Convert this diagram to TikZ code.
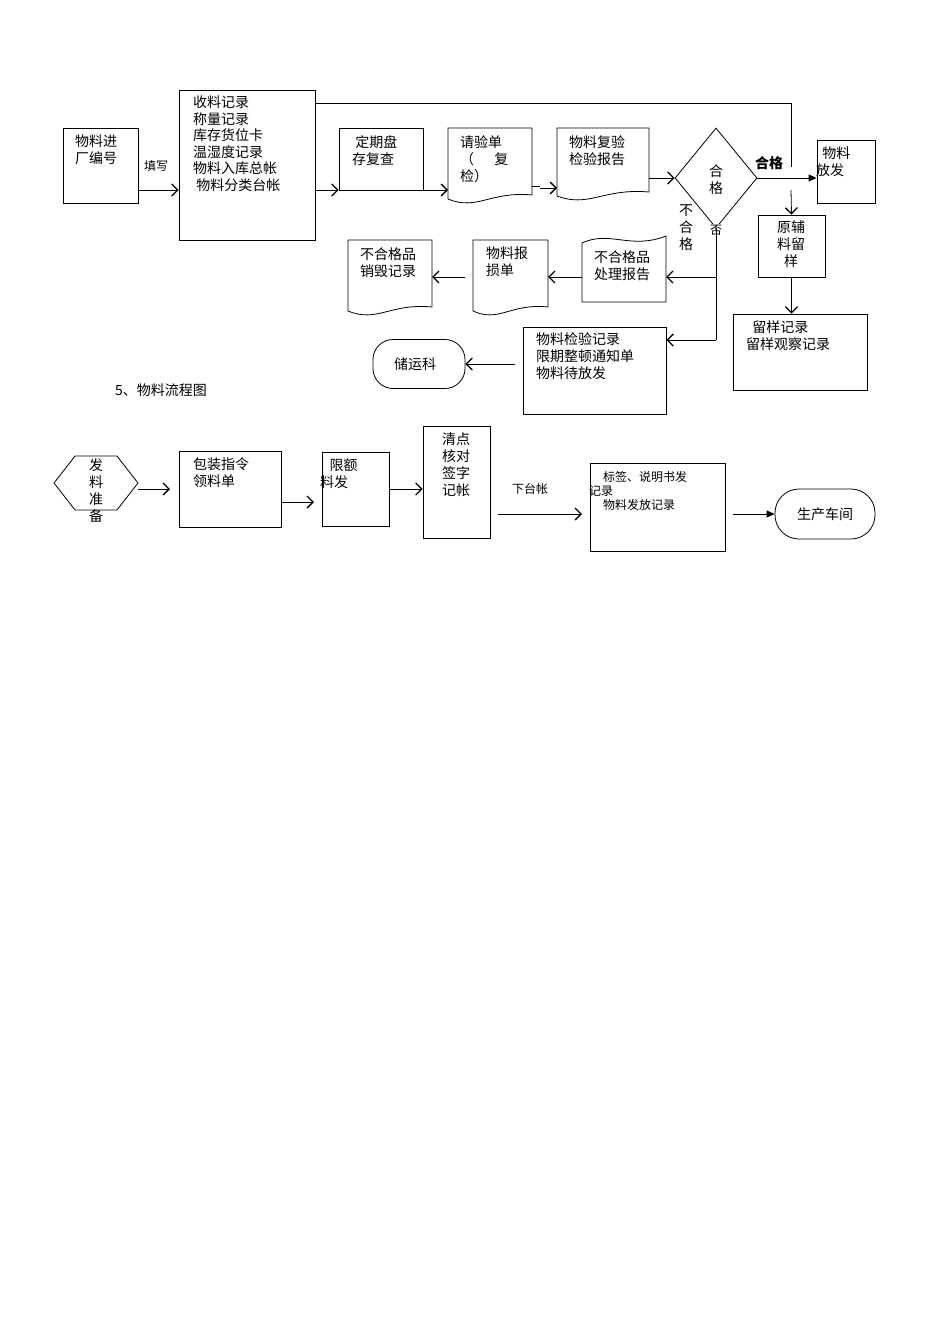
\documentclass[tikz,border=0pt]{standalone}
\usepackage{fontspec}
\setmainfont{Noto Sans CJK SC}
\usetikzlibrary{arrows.meta,fit,shapes.geometric}
\newcommand\docpath[4]{% x1 y1 x2 y2 ; wave at bottom
  \draw[thick] (#1,#2) -- (#3,#2) -- (#3,#4-8) .. controls ({(#1+#3)/2},#4-12) and ({#1+(#3-#1)*0.35},#4+8) .. (#1,#4-4) -- cycle;}
\begin{document}
\begin{tikzpicture}[x=1pt,y=-1pt,
  box/.style={draw,thick,inner sep=0pt},
  txt/.style={font=\fontsize{14}{17}\selectfont,align=left,inner sep=0pt,anchor=north west},
  sm/.style={font=\fontsize{12}{14}\selectfont,inner sep=0pt},
  arr/.style={thick,-{Straight Barb[length=6pt,width=12pt,line width=1.3pt]}},
  farr/.style={thick,-{Triangle[length=8pt,width=7pt]}}]
\useasboundingbox (0,0) rectangle (950,1344);
% ---- top diagram
\node[box,fit={(63,128)(138,203)}] (a) {};
\node[txt] (at) at (75,135) {物料进\\厂编号};
\node[sm] (fill) at (156,166) {填写};
\node[box,fit={(179,90)(315,240)}] (b) {};
\node[txt,font=\fontsize{14}{16.5}\selectfont] (bt) at (193,96) {收料记录\\称量记录\\库存货位卡\\温湿度记录\\物料入库总帐\\\ 物料分类台帐};
\node[box,fit={(339,128)(423,190)}] (c) {};
\node[txt] (ct) at (352,135) {\ 定期盘\\存复查};
\docpath{448}{128}{532}{203}
\coordinate (d) at (490,165);
\node[txt] (dt) at (460,135) {请验单\\（\quad\ \ 复\\检）};
\docpath{557}{128}{649}{200}
\coordinate (e) at (603,165);
\node[txt] (et) at (569,135) {物料复验\\检验报告};
\node[draw,thick,diamond,minimum width=82pt,minimum height=100pt,inner sep=0pt] (f) at (716,178) {};
\node[txt,align=center,anchor=center] (ft) at (716,180) {合\\格};
\node[sm,fill=white,inner sep=1pt] (no) at (716,230) {否};
\node[txt,font=\bfseries\fontsize{14}{17}\selectfont] (ok) at (755,156) {合格};
\node[txt,align=center,anchor=north] (ng) at (686,205) {不\\合\\格};
\node[box,fit={(817,140)(875,203)}] (g) {};
\node[txt] (gt) at (816,147) {\ \ 物料\\放发};
\node[box,fit={(758,215)(825,277)}] (h) {};
\node[txt,align=center,anchor=north] (ht) at (791,221) {原辅\\料留\\样};
\node[box,fit={(733,314)(867,390)}] (i) {};
\node[txt] (it) at (746,320) {\ \ 留样记录\\留样观察记录};
% reject branch
\draw[thick] (582,243) .. controls (610,230) and (630,250) .. (666,236) -- (666,302) -- (582,302) -- cycle;
\coordinate (j) at (624,277);
\node[txt] (jt) at (594,250) {不合格品\\处理报告};
\docpath{473}{240}{548}{315}
\coordinate (k) at (510,277);
\node[txt] (kt) at (486,247) {物料报\\损单};
\docpath{348}{240}{432}{315}
\coordinate (l) at (390,277);
\node[txt] (lt) at (360,247) {不合格品\\销毁记录};
\node[box,fit={(523,327)(666,414)}] (m) {};
\node[txt] (mt) at (536,332) {物料检验记录\\限期整顿通知单\\物料待放发};
\node[draw,thick,rounded corners=20pt,minimum width=92pt,minimum height=49pt] (n) at (419,364) {};
\node[txt,anchor=center] (nt) at (415,364) {储运科};
\node[txt,anchor=west,font=\fontsize{14}{17}\selectfont] (title) at (115,390) {5、物料流程图};
% connectors
\draw[arr] (a.east |- 0,190) -- (b.west |- 0,190);
\draw[arr] (b.east |- 0,190) -- (c.west |- 0,190);
\draw[arr] (c.east |- 0,190) -- (448,190);
\draw[thick] (532,186) -- (540,186);
\draw[arr] (540,188) -- (557,188);
\draw[arr] (649,178) -- (f.west);
\draw[farr] (f.east) -- (g.west |- f.east);
\draw[thick] (b.east |- 0,103) -- (791,103) -- (791,167);
\draw[arr] (791,190) -- (h.north);
\draw[arr] (h.south) -- (i.north -| h.south);
\draw[thick] (f.south) -- (716,340);
\draw[thick,-{Straight Barb[length=6pt,width=12pt,line width=1.3pt]}] (716,277) -- (666,277);
\draw[arr] (716,340) -- (m.east |- 0,340);
\draw[arr] (582,277) -- (548,277);
\draw[arr] (465,277) -- (432,277);
\draw[arr] (515,364) -- (n.east);
% ---- bottom diagram
\node[draw,thick,regular polygon,regular polygon sides=6,minimum size=84pt,inner sep=0pt,yscale=0.74] (p) at (96,483) {};
\node[txt,align=center,anchor=north] (pt) at (96,458) {发\\料\\准\\备};
\node[box,fit={(179,451)(281,527)}] (q) {};
\node[txt] (qt) at (193,457) {包装指令\\领料单};
\node[box,fit={(322,452)(389,526)}] (r) {};
\node[txt] (rt) at (320,459) {\ \ \ 限额\\料发};
\node[box,fit={(423,426)(490,538)}] (s) {};
\node[txt,align=center,anchor=north] (st) at (456,433) {清点\\核对\\签字\\记帐};
\node[sm] (tz) at (530,489) {下台帐};
\node[box,fit={(590,463)(725,551)}] (u) {};
\node[sm,anchor=west] (ut1) at (603,477) {标签、说明书发};
\node[sm,anchor=west] (ut2) at (589,491) {记录};
\node[sm,anchor=west] (ut3) at (603,505) {物料发放记录};
\node[draw,thick,rounded corners=24pt,minimum width=100pt,minimum height=50pt] (v) at (825,514) {};
\node[txt,anchor=center] (vt) at (825,514) {生产车间};
\draw[arr] (p.east |- 0,489) -- (170,489);
\draw[arr] (281,502) -- (314,502);
\draw[arr] (r.east |- 0,489) -- (s.west |- 0,489);
\draw[arr] (498,514) -- (582,514);
\draw[farr] (733,514) -- (v.west);
\end{tikzpicture}
\end{document}
